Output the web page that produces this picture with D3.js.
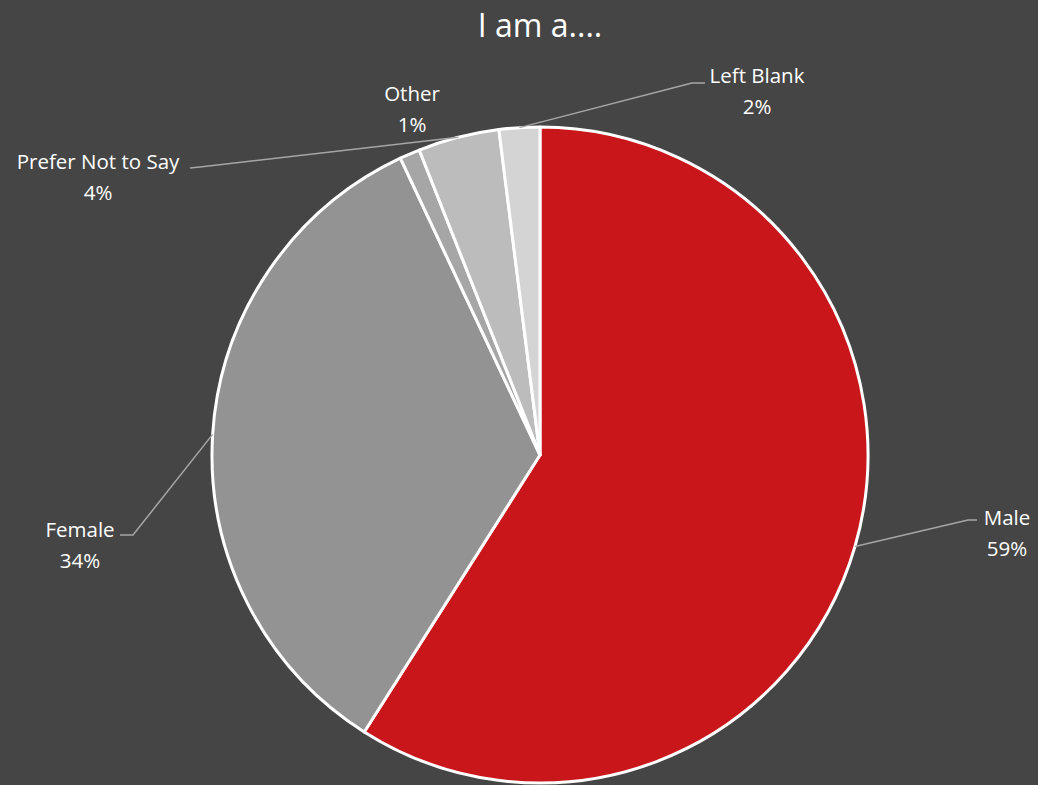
<!DOCTYPE html>
<html>
<head>
<meta charset="utf-8">
<script src="https://cdn.jsdelivr.net/npm/d3@7"></script>
<style>
  html, body { margin: 0; padding: 0; background: #454545; }
  svg { display: block; }
  text { font-family: "Open Sans", "Noto Sans", sans-serif; fill: #ffffff; }
</style>
</head>
<body>
<svg id="chart" width="1038" height="785"></svg>
<script>
// Survey answers to "I am a...."
const categories = ["Male", "Female", "Other", "Prefer Not to Say", "Left Blank"];
const values = [59, 34, 1, 4, 2];
const colors = ["#c8161a", "#939393", "#a6a6a6", "#bcbcbc", "#d4d4d4"];
const title = "I am a....";

// Label anchor (centre of two-line label) and leader elbow per slice
const labelPos = [
  { x: 1007, y: 532, elbow: [968, 520], end: [977, 520] },
  { x: 80,   y: 544, elbow: [133, 535], end: [120, 535] },
  { x: 412,  y: 108, elbow: null, end: null },
  { x: 98,   y: 176, elbow: [200, 167], end: [190, 168] },
  { x: 757,  y: 90,  elbow: [692, 83],  end: [705, 83] }
];

const width = 1038, height = 785;
const cx = 540, cy = 455, radius = 328;

const svg = d3.select("#chart");

svg.append("text")
  .attr("x", cx)
  .attr("y", 37)
  .attr("text-anchor", "middle")
  .style("font-size", "32px")
  .text(title);

const pie = d3.pie().sort(null).value(d => d)(values);
const arc = d3.arc().innerRadius(0).outerRadius(radius);

const g = svg.append("g").attr("transform", `translate(${cx},${cy})`);

g.selectAll("path.slice")
  .data(pie)
  .join("path")
  .attr("class", "slice")
  .attr("d", arc)
  .attr("fill", (d, i) => colors[i])
  .attr("stroke", "#ffffff")
  .attr("stroke-width", 3)
  .attr("stroke-linejoin", "round");

// Leader lines from the slice edge to the label
const edgePoint = d => {
  const a = (d.startAngle + d.endAngle) / 2;
  return [cx + radius * Math.sin(a), cy - radius * Math.cos(a)];
};

svg.selectAll("polyline.leader")
  .data(pie.filter((d, i) => labelPos[i].elbow))
  .join("polyline")
  .attr("class", "leader")
  .attr("fill", "none")
  .attr("stroke", "#a6a6a6")
  .attr("stroke-width", 1.5)
  .attr("points", d => {
    const p = labelPos[d.index];
    return [edgePoint(d), p.elbow, p.end].map(q => q.join(",")).join(" ");
  });

const labels = svg.selectAll("text.label")
  .data(pie)
  .join("text")
  .attr("class", "label")
  .attr("text-anchor", "middle")
  .style("font-size", "20.5px");

labels.append("tspan")
  .attr("x", (d, i) => labelPos[i].x)
  .attr("y", (d, i) => labelPos[i].y - 7)
  .text((d, i) => categories[i]);

labels.append("tspan")
  .attr("x", (d, i) => labelPos[i].x)
  .attr("y", (d, i) => labelPos[i].y + 24)
  .text(d => d.value + "%");
</script>
</body>
</html>
